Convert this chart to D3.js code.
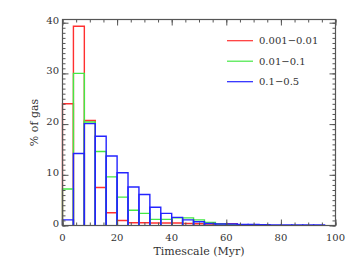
<!DOCTYPE html>
<html>
<head>
<meta charset="utf-8">
<script src="https://cdn.jsdelivr.net/npm/d3@7"></script>
<style>
  body { margin: 0; background: #fff; }
  text { font-family: "DejaVu Serif", serif; fill: #333; }
</style>
</head>
<body>
<svg id="mySvg" width="354" height="266"></svg>
<script>
// bin edges (Myr), 4 Myr wide
var binWidth = 4;
var binStarts = d3.range(0, 100, binWidth);

// % of gas in each bin, one array per series
var redValues   = [24.0, 39.3, 20.7, 7.5, 2.5, 1.0, 0.55, 0.55, 0.5, 0.5, 0.5, 0.4, 0.35, 0.3, 0.35, 0.35];
var greenValues = [7.2, 30.0, 20.4, 14.6, 9.6, 5.6, 3.0, 2.4, 1.2, 1.2, 1.5, 1.5, 1.1, 0.6, 0.3, 0.15];
var blueValues  = [1.1, 14.2, 20.1, 17.6, 13.7, 10.4, 7.6, 6.1, 3.6, 2.4, 1.6, 1.1, 0.75, 0.4, 0.3, 0.3,
                   0.2, 0.2, 0.15, 0.1, 0.1, 0.1, 0.1, 0.1];

var seriesNames  = ["0.001\u22120.01", "0.01\u22120.1", "0.1\u22120.5"];
var seriesColors = ["#ff3030", "#44e844", "#2424ff"];
var allSeries    = [redValues, greenValues, blueValues];

var xTicks = [0, 20, 40, 60, 80, 100];
var yTicks = [0, 10, 20, 30, 40];

// plot box (note: "top" is reserved on window, so use plot* names)
var plotLeft = 62.5, plotRight = 335.5, plotTop = 19.5, plotBottom = 225.5;

var svgContainer = d3.select("#mySvg");

var x = d3.scaleLinear().domain([0, 100]).range([plotLeft, plotRight]);
var y = d3.scaleLinear().domain([0, 40.63]).range([plotBottom, plotTop]);

// histogram outlines, red first so blue ends up on top
allSeries.forEach(function (values, i) {
  var g = svgContainer.append("g")
    .attr("fill", "none")
    .attr("stroke", seriesColors[i])
    .attr("stroke-width", 1.4);

  g.selectAll("path")
    .data(values.map(function (v, k) { return { x0: binStarts[k], v: v }; }))
    .enter().append("path")
    .attr("d", function (d) {
      return "M" + x(d.x0) + "," + y(0) +
             "V" + y(d.v) +
             "H" + x(d.x0 + binWidth) +
             "V" + y(0);
    });
});

// axes, ticks pointing inward like IDL
var axisColor = "#555";

function ticks(axisFn, scale, values, size) {
  return axisFn(scale).tickValues(values).tickFormat("").tickSize(size).tickSizeOuter(0);
}

var gxb = svgContainer.append("g").attr("transform", "translate(0," + plotBottom + ")");
var gxt = svgContainer.append("g").attr("transform", "translate(0," + plotTop + ")");
var gyl = svgContainer.append("g").attr("transform", "translate(" + plotLeft + ",0)");
var gyr = svgContainer.append("g").attr("transform", "translate(" + plotRight + ",0)");

// minor ticks
gxb.append("g").call(ticks(d3.axisTop, x, d3.range(0, 101, 5), 3));
gxt.append("g").call(ticks(d3.axisBottom, x, d3.range(0, 101, 5), 3));
gyl.append("g").call(ticks(d3.axisRight, y, d3.range(0, 41, 1), 3));
gyr.append("g").call(ticks(d3.axisLeft, y, d3.range(0, 41, 1), 3));

// major ticks
gxb.append("g").call(ticks(d3.axisTop, x, xTicks, 6));
gxt.append("g").call(ticks(d3.axisBottom, x, xTicks, 6));
gyl.append("g").call(ticks(d3.axisRight, y, yTicks, 6));
gyr.append("g").call(ticks(d3.axisLeft, y, yTicks, 6));

svgContainer.selectAll(".domain").remove();
svgContainer.selectAll(".tick line").attr("stroke", axisColor).attr("stroke-width", 1);

svgContainer.append("rect")
  .attr("x", plotLeft)
  .attr("y", plotTop)
  .attr("width", plotRight - plotLeft)
  .attr("height", plotBottom - plotTop)
  .attr("fill", "none")
  .attr("stroke", axisColor)
  .attr("stroke-width", 1.2);

// tick labels
svgContainer.selectAll(".xlab")
  .data(xTicks)
  .enter().append("text")
  .attr("x", function (d) { return x(d); })
  .attr("y", 241)
  .attr("text-anchor", "middle")
  .attr("font-size", 10)
  .text(function (d) { return d; });

svgContainer.selectAll(".ylab")
  .data(yTicks)
  .enter().append("text")
  .attr("x", 59)
  .attr("y", function (d) { return y(d) + 1; })
  .attr("text-anchor", "end")
  .attr("font-size", 10)
  .text(function (d) { return d; });

// axis titles
svgContainer.append("text")
  .attr("x", (plotLeft + plotRight) / 2)
  .attr("y", 255)
  .attr("text-anchor", "middle")
  .attr("font-size", 11)
  .text("Timescale (Myr)");

svgContainer.append("text")
  .attr("transform", "translate(38," + ((plotTop + plotBottom) / 2) + ") rotate(-90)")
  .attr("text-anchor", "middle")
  .attr("font-size", 11)
  .text("% of gas");

// legend
var legend = svgContainer.append("g");
seriesNames.forEach(function (name, i) {
  var ly = 40.7 + i * 20.5;
  legend.append("line")
    .attr("x1", 227).attr("x2", 253)
    .attr("y1", ly).attr("y2", ly)
    .attr("stroke", seriesColors[i])
    .attr("stroke-width", 1.2);
  legend.append("text")
    .attr("x", 259)
    .attr("y", ly + 3.5)
    .attr("font-size", 10)
    .text(name);
});
</script>
</body>
</html>
